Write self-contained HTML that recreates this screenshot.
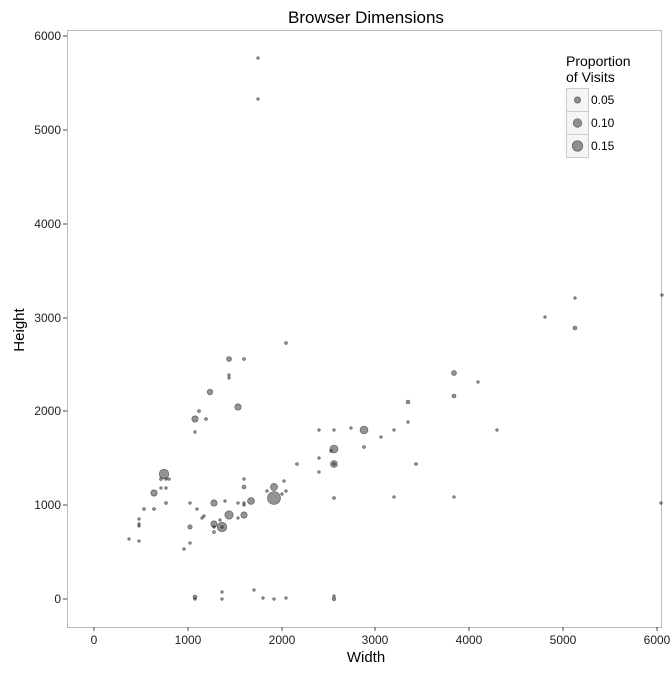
<!DOCTYPE html>
<html><head><style>body{margin:0;background:#fff}</style></head><body>
<svg width="672" height="672" xmlns="http://www.w3.org/2000/svg" font-family="Liberation Sans, Arial, sans-serif">
<rect width="672" height="672" fill="#fff"/>
<text x="366" y="23" font-size="17" text-anchor="middle" fill="#000">Browser Dimensions</text>
<rect x="67.5" y="30.5" width="594" height="597" fill="#fff" stroke="#bbb"/>
<g stroke="#444" stroke-width="1">
<line x1="94" y1="627" x2="94" y2="631"/><line x1="188" y1="627" x2="188" y2="631"/><line x1="282" y1="627" x2="282" y2="631"/><line x1="375" y1="627" x2="375" y2="631"/><line x1="469" y1="627" x2="469" y2="631"/><line x1="563" y1="627" x2="563" y2="631"/><line x1="657" y1="627" x2="657" y2="631"/>
<line x1="63" y1="599" x2="67" y2="599"/><line x1="63" y1="505" x2="67" y2="505"/><line x1="63" y1="411" x2="67" y2="411"/><line x1="63" y1="318" x2="67" y2="318"/><line x1="63" y1="224" x2="67" y2="224"/><line x1="63" y1="130" x2="67" y2="130"/><line x1="63" y1="36" x2="67" y2="36"/>
</g>
<g font-size="12" fill="#222" text-anchor="middle">
<text x="94" y="644">0</text><text x="188" y="644">1000</text><text x="282" y="644">2000</text><text x="375" y="644">3000</text><text x="469" y="644">4000</text><text x="563" y="644">5000</text><text x="657" y="644">6000</text>
</g>
<g font-size="12" fill="#222" text-anchor="end">
<text x="61" y="603">0</text><text x="61" y="509">1000</text><text x="61" y="415">2000</text><text x="61" y="322">3000</text><text x="61" y="228">4000</text><text x="61" y="134">5000</text><text x="61" y="40">6000</text>
</g>
<text x="366" y="662" font-size="15" text-anchor="middle">Width</text>
<text x="24" y="330" font-size="15" text-anchor="middle" transform="rotate(-90 24 330)">Height</text>
<g fill="rgba(40,40,40,0.5)" stroke="rgba(20,20,20,0.6)" stroke-width="0.6">
<circle cx="258" cy="58" r="1.3"/><circle cx="258" cy="99" r="1.3"/>
<circle cx="662" cy="295" r="1.3"/><circle cx="575" cy="298" r="1.3"/><circle cx="545" cy="317" r="1.3"/><circle cx="575" cy="328" r="2"/>
<circle cx="286" cy="343" r="1.5"/><circle cx="229" cy="359" r="2.5"/><circle cx="244" cy="359" r="1.5"/><circle cx="229" cy="375" r="1.3"/><circle cx="229" cy="378" r="1.3"/>
<circle cx="454" cy="373" r="2.5"/><circle cx="478" cy="382" r="1.3"/><circle cx="454" cy="396" r="2"/><circle cx="497" cy="430" r="1.3"/>
<circle cx="210" cy="392" r="2.8"/><circle cx="238" cy="407" r="3.2"/><circle cx="199" cy="411" r="1.5"/><circle cx="195" cy="419" r="3.2"/><circle cx="206" cy="419" r="1.5"/><circle cx="195" cy="432" r="1.3"/>
<circle cx="408" cy="402" r="2"/><circle cx="408" cy="422" r="1.3"/><circle cx="394" cy="430" r="1.3"/><circle cx="381" cy="437" r="1.3"/><circle cx="364" cy="430" r="4"/><circle cx="364" cy="447" r="1.5"/><circle cx="416" cy="464" r="1.5"/><circle cx="394" cy="497" r="1.3"/><circle cx="454" cy="497" r="1.3"/>
<circle cx="319" cy="430" r="1.3"/><circle cx="334" cy="430" r="1.3"/><circle cx="351" cy="428" r="1.3"/>
<circle cx="334" cy="449" r="4"/><circle cx="331" cy="451" r="1.3"/><circle cx="334" cy="464" r="3.5"/><circle cx="334" cy="464" r="1.2"/><circle cx="297" cy="464" r="1.5"/><circle cx="319" cy="458" r="1.3"/><circle cx="319" cy="472" r="1.3"/>
<circle cx="164" cy="474" r="4.8"/><circle cx="161" cy="479" r="1.5"/><circle cx="166" cy="479" r="1.3"/><circle cx="169" cy="479" r="1.3"/><circle cx="244" cy="479" r="1.3"/><circle cx="161" cy="488" r="1.3"/><circle cx="166" cy="488" r="1.3"/><circle cx="154" cy="493" r="3.2"/>
<circle cx="274" cy="487" r="3.6"/><circle cx="284" cy="481" r="1.3"/><circle cx="267" cy="491" r="1.3"/><circle cx="286" cy="491" r="1.3"/><circle cx="282" cy="494" r="1.3"/><circle cx="244" cy="487" r="2"/>
<circle cx="274" cy="498" r="6.5"/><circle cx="251" cy="501" r="3.5"/><circle cx="214" cy="503" r="3.2"/><circle cx="225" cy="501" r="1.3"/><circle cx="238" cy="503" r="1.3"/><circle cx="244" cy="503" r="1.3"/><circle cx="244" cy="505" r="1.3"/><circle cx="166" cy="503" r="1.5"/><circle cx="190" cy="503" r="1.3"/><circle cx="334" cy="498" r="1.5"/>
<circle cx="144" cy="509" r="1.5"/><circle cx="154" cy="509" r="1.5"/><circle cx="229" cy="515" r="4.2"/><circle cx="244" cy="515" r="3.2"/><circle cx="197" cy="509" r="1.3"/><circle cx="204" cy="516" r="1.3"/><circle cx="202" cy="518" r="1.3"/><circle cx="238" cy="518" r="1.3"/>
<circle cx="214" cy="524" r="3.2"/><circle cx="222" cy="527" r="4.8"/><circle cx="222" cy="527" r="1.3"/><circle cx="220" cy="520" r="1.3"/><circle cx="214" cy="527" r="1.3"/><circle cx="214" cy="532" r="1.5"/><circle cx="190" cy="527" r="2.2"/>
<circle cx="139" cy="519" r="1.3"/><circle cx="139" cy="524" r="1.3"/><circle cx="139" cy="526" r="1.3"/><circle cx="129" cy="539" r="1.3"/><circle cx="139" cy="541" r="1.3"/><circle cx="190" cy="543" r="1.3"/><circle cx="184" cy="549" r="1.3"/>
<circle cx="195" cy="597" r="2"/><circle cx="195" cy="599" r="1.3"/><circle cx="222" cy="592" r="1.3"/><circle cx="222" cy="599" r="1.3"/><circle cx="254" cy="590" r="1.3"/><circle cx="263" cy="598" r="1.3"/><circle cx="274" cy="599" r="1.3"/><circle cx="286" cy="598" r="1.3"/><circle cx="334" cy="599" r="1.8"/><circle cx="334" cy="596" r="1.3"/>
<circle cx="661" cy="503" r="1.3"/>
</g>
<text x="566" y="66" font-size="14">Proportion</text>
<text x="566" y="82" font-size="14">of Visits</text>
<g fill="#f5f5f5" stroke="#ccc"><rect x="566.5" y="88.5" width="22" height="23"/><rect x="566.5" y="111.5" width="22" height="23"/><rect x="566.5" y="134.5" width="22" height="23"/></g>
<g fill="rgba(40,40,40,0.5)" stroke="rgba(20,20,20,0.6)" stroke-width="0.6"><circle cx="577.5" cy="100" r="3.2"/><circle cx="577.5" cy="123" r="4.3"/><circle cx="577.5" cy="146" r="5.3"/></g>
<g font-size="12" fill="#000"><text x="591" y="104">0.05</text><text x="591" y="127">0.10</text><text x="591" y="150">0.15</text></g>
</svg>
</body></html>
